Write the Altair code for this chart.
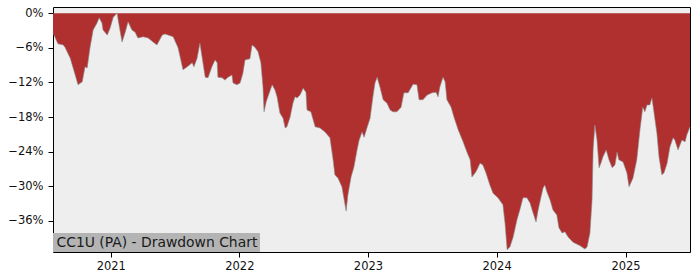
import altair as alt
import pandas as pd

# Drawdown series (percent)
dates = [
    "2020-07-21","2020-08-04","2020-08-19","2020-08-24","2020-09-08","2020-09-22","2020-09-30","2020-10-12","2020-10-20","2020-10-26",
    "2020-11-03","2020-11-12","2020-11-23","2020-11-29","2020-12-07","2020-12-10","2020-12-22","2020-12-30","2021-01-08","2021-01-19",
    "2021-01-22","2021-02-02","2021-02-11","2021-02-19","2021-03-02","2021-03-11","2021-03-19","2021-04-03","2021-04-17","2021-05-01",
    "2021-05-12","2021-05-27","2021-06-04","2021-06-27","2021-07-11","2021-07-25","2021-08-06","2021-08-20","2021-08-25","2021-09-03",
    "2021-09-11","2021-09-26","2021-10-04","2021-10-15","2021-10-24","2021-10-30","2021-11-01","2021-11-13","2021-11-21","2021-11-30",
    "2021-12-11","2021-12-14","2021-12-25","2022-01-03","2022-01-11","2022-01-17","2022-01-31","2022-02-06","2022-02-14","2022-02-23",
    "2022-03-03","2022-03-09","2022-03-12","2022-03-18","2022-03-23","2022-04-04","2022-04-12","2022-04-18","2022-04-26","2022-05-05",
    "2022-05-11","2022-05-16","2022-05-25","2022-06-02","2022-06-08","2022-06-14","2022-06-22","2022-07-01","2022-07-09","2022-07-12",
    "2022-07-23","2022-08-04","2022-08-18","2022-09-01","2022-09-15","2022-09-24","2022-09-29","2022-10-08","2022-10-19","2022-10-31",
    "2022-11-05","2022-11-14","2022-11-22","2022-12-01","2022-12-07","2022-12-15","2022-12-21","2022-12-29","2023-01-07","2023-01-15",
    "2023-01-21","2023-01-27","2023-02-04","2023-02-13","2023-02-24","2023-03-05","2023-03-13","2023-03-24","2023-04-05","2023-04-13",
    "2023-04-25","2023-05-09","2023-05-20","2023-05-26","2023-06-06","2023-06-18","2023-07-02","2023-07-13","2023-07-19","2023-07-24",
    "2023-08-02","2023-08-08","2023-08-13","2023-08-25","2023-09-02","2023-09-14","2023-09-28","2023-10-09","2023-10-18","2023-10-23",
    "2023-11-01","2023-11-06","2023-11-15","2023-11-23","2023-12-02","2023-12-13","2023-12-22","2024-01-05","2024-01-19","2024-01-25",
    "2024-01-31","2024-02-08","2024-02-17","2024-02-28","2024-03-07","2024-03-16","2024-03-27","2024-04-05","2024-04-13","2024-04-22",
    "2024-04-28","2024-05-06","2024-05-12","2024-05-17","2024-05-23","2024-06-01","2024-06-09","2024-06-20","2024-06-26","2024-07-05",
    "2024-07-13","2024-07-22","2024-08-05","2024-08-25","2024-09-08","2024-09-14","2024-09-22","2024-09-28","2024-10-01","2024-10-06",
    "2024-10-12","2024-10-18","2024-10-23","2024-10-29","2024-11-07","2024-11-09","2024-11-15","2024-11-24","2024-12-02","2024-12-08",
    "2024-12-13","2024-12-25","2025-01-05","2025-01-11","2025-01-22","2025-02-02","2025-02-11","2025-02-19","2025-02-25","2025-03-03",
    "2025-03-11","2025-03-17","2025-03-23","2025-03-31","2025-04-06","2025-04-14","2025-04-20","2025-04-29","2025-05-07","2025-05-16",
    "2025-05-21","2025-05-30","2025-06-10","2025-06-19","2025-06-24","2025-07-03",
]

drawdown = [
    -3.4, -5.3, -5.5, -5.9, -7.8, -10.7, -12.4, -11.9, -9.3, -9.5,
    -6.0, -2.9, -1.7, -0.8, -1.7, -2.9, -3.8, -2.6, -0.7, 0.0,
    -1.2, -5.0, -3.3, -1.5, -2.9, -3.3, -4.3, -4.1, -4.3, -5.0,
    -5.5, -3.8, -3.6, -4.1, -6.0, -9.8, -9.3, -8.6, -9.3, -7.8,
    -5.2, -11.1, -11.2, -9.3, -8.1, -8.6, -11.1, -11.2, -11.6, -11.1,
    -10.7, -12.1, -12.4, -12.1, -10.4, -8.1, -7.9, -5.5, -5.9, -6.7,
    -8.6, -12.8, -17.1, -15.4, -14.5, -12.4, -13.3, -14.5, -17.3, -18.2,
    -19.9, -19.7, -18.0, -15.6, -14.5, -14.7, -14.2, -13.0, -13.7, -16.8,
    -17.1, -19.7, -19.9, -20.6, -21.6, -25.4, -28.0, -28.6, -30.1, -34.3,
    -31.5, -28.4, -26.7, -23.7, -22.0, -20.6, -21.5, -19.9, -18.2, -14.5,
    -12.1, -11.1, -12.8, -15.0, -15.6, -16.8, -17.1, -17.1, -16.3, -13.8,
    -13.8, -12.3, -12.4, -15.0, -15.0, -14.2, -13.8, -13.7, -14.5, -12.8,
    -11.1, -11.9, -15.0, -16.3, -18.0, -20.2, -22.3, -24.1, -25.4, -28.4,
    -27.7, -27.2, -26.0, -26.3, -27.7, -29.8, -31.2, -32.0, -33.2, -36.4,
    -41.0, -40.5, -38.8, -35.8, -34.1, -32.0, -32.0, -32.9, -34.5, -36.2,
    -34.1, -31.9, -30.3, -29.8, -31.0, -32.4, -34.1, -35.0, -37.2, -38.1,
    -37.9, -38.8, -39.7, -40.3, -40.9, -40.5, -38.1, -32.4, -23.7, -19.4,
    -22.0, -26.8, -26.0, -24.9, -23.7, -24.1, -25.4, -26.8, -26.3, -24.1,
    -25.4, -25.8, -27.7, -30.1, -28.6, -25.4, -20.2, -16.3, -17.1, -15.9,
    -15.9, -14.7, -17.3, -20.8, -24.9, -28.0, -27.7, -26.0, -23.2, -21.6,
    -22.0, -23.7, -22.0, -22.3, -21.1, -19.7,
]

y_ticks = [0, -6, -12, -18, -24, -30, -36]
x_tick_years = [2021, 2022, 2023, 2024, 2025]
label_text = "CC1U (PA) - Drawdown Chart"

df = pd.DataFrame({"date": dates, "dd": drawdown})

x_enc = alt.X(
    "date:T",
    scale=alt.Scale(
        type="utc",
        domain=[alt.DateTime(year=2020, month=7, date=21, utc=True),
                alt.DateTime(year=2025, month=7, date=3, utc=True)],
        nice=False,
    ),
    axis=alt.Axis(
        values=[alt.DateTime(year=y, month=1, date=1, utc=True) for y in x_tick_years],
        format="%Y", formatType="utc", title=None, grid=False, domain=False,
        tickSize=5, tickColor="black", labelPadding=3,
    ),
)
y_enc = alt.Y(
    "dd:Q",
    scale=alt.Scale(domain=[-41.4, 1.07], nice=False, zero=False),
    axis=alt.Axis(
        values=y_ticks, title=None, grid=False, domain=False,
        tickSize=5, tickColor="black", labelPadding=5,
        labelExpr="replace(format(datum.value, 'd'), '-', '\u2212') + '%'",
    ),
)

area = alt.Chart(df).mark_area(color="#B03030", interpolate="linear", opacity=1).encode(
    x=x_enc, y=y_enc, y2=alt.value(0)
)
edge = alt.Chart(df).mark_line(color="#8a8a8a", strokeWidth=0.6, interpolate="linear").encode(
    x=x_enc, y=y_enc
)

box_df = pd.DataFrame({"label": [label_text]})
box = alt.Chart(box_df).mark_rect(color="#B4B4B4").encode(
    x=alt.value(0), x2=alt.value(207), y=alt.value(226), y2=alt.value(245)
)
txt = alt.Chart(box_df).mark_text(
    align="left", baseline="alphabetic", fontSize=13.9, color="#1a1a1a", font="DejaVu Sans"
).encode(x=alt.value(3.5), y=alt.value(240), text="label:N")

chart = alt.layer(area, edge, box, txt).properties(
    width=637, height=245,
    autosize=alt.AutoSizeParams(type="none"),
    padding={"left": 53, "top": 7, "right": 10, "bottom": 28},
    background="white",
).configure_view(
    stroke="black", strokeWidth=1, fill="#EEEEEE"
).configure_axis(
    labelFont="DejaVu Sans", labelFontSize=11.5, labelColor="#111111", tickWidth=1
)

chart.save("out.html", embed_options={"renderer": "svg", "actions": False})
